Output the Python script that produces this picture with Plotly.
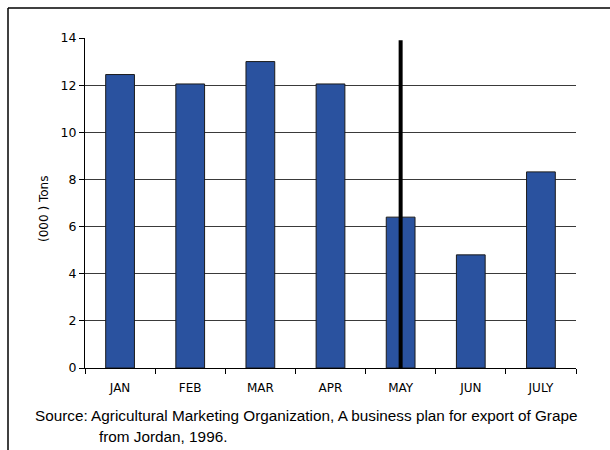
import plotly.graph_objects as go

months = ["JAN", "FEB", "MAR", "APR", "MAY", "JUN", "JULY"]
tons = [12.45, 12.05, 13.0, 12.05, 6.4, 4.8, 8.32]
marker_month = "MAY"
marker_range = [0, 13.9]
y_ticks = [0, 2, 4, 6, 8, 10, 12, 14]

W, H = 610, 450
L, R, T, B = 85, 34, 38, 82
pw, ph = W - L - R, H - T - B

def px(x):
    return (x - L) / pw

def py(y):
    return (H - B - y) / ph

fig = go.Figure()
fig.add_trace(go.Bar(
    x=months, y=tons,
    marker=dict(color="#2A529F", line=dict(color="#1b1b1b", width=1)),
    width=0.41,
))
fig.add_trace(go.Scatter(
    x=[marker_month, marker_month], y=marker_range,
    mode="lines", line=dict(color="black", width=4),
))

fig.update_layout(
    width=W, height=H,
    margin=dict(l=L, r=R, t=T, b=B),
    paper_bgcolor="white", plot_bgcolor="white",
    showlegend=False,
    font=dict(family="DejaVu Sans", size=12, color="black"),
    xaxis=dict(
        showgrid=False, showline=True, linecolor="black", linewidth=1,
        ticks="outside", ticklen=5, tickcolor="black",
        tickson="boundaries", ticklabelstandoff=9,
        tickfont=dict(family="DejaVu Sans", size=12),
    ),
    yaxis=dict(
        range=[0, 14], tickvals=y_ticks,
        showgrid=True, gridcolor="#3a3a3a", gridwidth=1,
        showline=True, linecolor="black", linewidth=1,
        ticks="outside", ticklen=5, tickcolor="black",
        zeroline=False,
        tickfont=dict(family="DejaVu Sans", size=12.5),
    ),
    shapes=[
        dict(type="line", xref="paper", yref="paper",
             x0=px(8), x1=px(W + 5), y0=py(8), y1=py(8),
             line=dict(color="black", width=1.5)),
        dict(type="line", xref="paper", yref="paper",
             x0=px(8), x1=px(8), y0=py(8), y1=py(H + 5),
             line=dict(color="black", width=1.5)),
    ],
    annotations=[
        dict(text="(000 ) Tons", xref="paper", yref="paper",
             x=px(44), y=py(209), textangle=-90, showarrow=False,
             xanchor="center", yanchor="middle",
             font=dict(family="DejaVu Sans", size=12)),
        dict(text="Source: Agricultural Marketing Organization, A business plan for export of Grape",
             xref="paper", yref="paper", x=px(33), y=py(415),
             xanchor="left", yanchor="middle", showarrow=False,
             font=dict(family="Liberation Sans", size=15.3)),
        dict(text="from Jordan, 1996.",
             xref="paper", yref="paper", x=px(97), y=py(437),
             xanchor="left", yanchor="middle", showarrow=False,
             font=dict(family="Liberation Sans", size=15.3)),
    ],
)

fig.write_html("out.html")
